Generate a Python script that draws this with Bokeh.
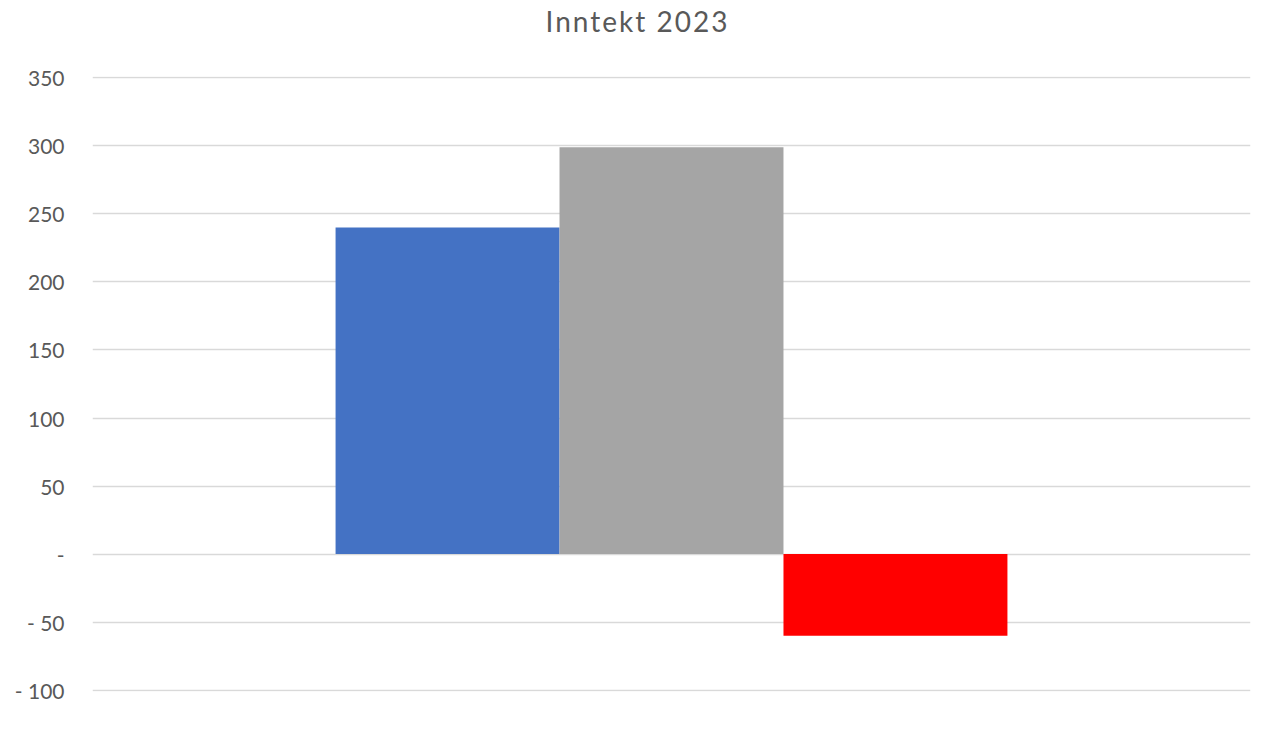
from bokeh.plotting import figure
from bokeh.models import (FactorRange, Range1d, Legend, LegendItem, FixedTicker,
                          CustomJSTickFormatter, ColumnDataSource, Div)
from bokeh.layouts import column
from bokeh.transform import dodge
from bokeh.embed import file_html
from bokeh.resources import INLINE

# ---- data ----
title_text = "Inntekt 2023"
category = ["2023"]
series = ["Prognose 2023", "Beregnet inntekt 2023  Prop. 99S",
          "Prognose avvik budsjett og prognose"]
values = [240, 299, -60]
colors = ["#4472C4", "#A5A5A5", "#FF0000"]
y_ticks = [-100, -50, 0, 50, 100, 150, 200, 250, 300, 350]

FONT = "Lato"
TXT = "#595959"
GRID = "#D9D9D9"

FW, FH = 1158, 615
LEFT, RIGHT = 92, 3
TITLE_H = 42

title = Div(
    text=('<div style="box-sizing:border-box;width:%dpx;padding-left:22px;'
          'text-align:center;font-family:Lato;font-size:28px;letter-spacing:2px;'
          'line-height:%dpx;color:%s;white-space:nowrap;">%s</div>')
    % (LEFT + FW + RIGHT, TITLE_H, TXT, title_text),
    width=LEFT + FW + RIGHT, height=TITLE_H, margin=0)

p = figure(frame_width=FW, frame_height=FH, x_range=FactorRange(factors=category),
           y_range=Range1d(-101, 351), output_backend="svg",
           toolbar_location=None,
           min_border_left=LEFT, min_border_right=RIGHT, min_border_top=76 - TITLE_H,
           min_border_bottom=0, margin=0)
p.outline_line_color = None
p.background_fill_color = "white"
p.border_fill_color = "white"

bar_w = 0.1934
renderers = []
for i, (name, val, col) in enumerate(zip(series, values, colors)):
    src = ColumnDataSource(dict(cat=category, val=[val]))
    r = p.vbar(x=dodge("cat", (i - 1) * bar_w, range=p.x_range), top="val",
               bottom=0, width=bar_w, source=src, fill_color=col,
               line_color=None)
    renderers.append((name, r))

p.xaxis.visible = False
p.xgrid.visible = False
p.ygrid.grid_line_color = GRID
p.ygrid.grid_line_width = 1.5

ya = p.yaxis[0]
ya.ticker = FixedTicker(ticks=y_ticks)
ya.formatter = CustomJSTickFormatter(code="""
if (tick == 0) return "-";
if (tick < 0) return "- " + Math.abs(tick);
return "" + tick;
""")
ya.axis_line_color = None
ya.major_tick_line_color = None
ya.minor_tick_line_color = None
ya.major_tick_out = 0
ya.major_label_standoff = 28
ya.major_label_text_font = FONT
ya.major_label_text_font_size = "21px"
ya.major_label_text_color = TXT

legend = Legend(items=[LegendItem(label=n, renderers=[r]) for n, r in renderers],
                orientation="horizontal", location=(57, 12))
legend.label_text_font = FONT
legend.label_text_font_size = "22px"
legend.label_text_color = TXT
legend.glyph_width = 12
legend.glyph_height = 12
legend.label_standoff = 8
legend.spacing = 54
legend.border_line_color = None
legend.background_fill_alpha = 0
legend.padding = 0
legend.margin = 13
p.add_layout(legend, "below")

layout = column(title, p, spacing=0)
open("out.html", "w").write(file_html(layout, INLINE))
